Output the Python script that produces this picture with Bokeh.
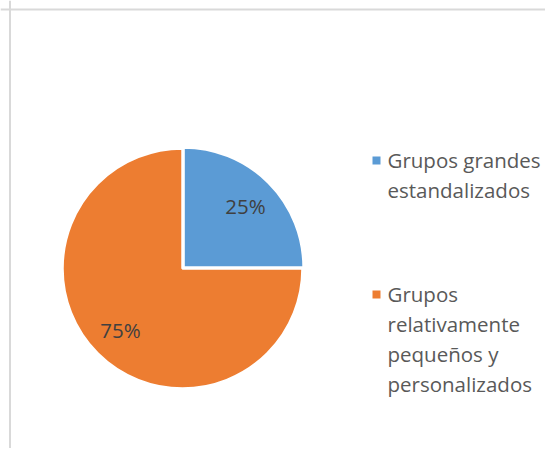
import math
from bokeh.plotting import figure
from bokeh.models import ColumnDataSource, Span
from bokeh.core.properties import value
from bokeh.embed import file_html
from bokeh.resources import INLINE

# ---- data ----
categories = ["Grupos grandes\nestandalizados",
              "Grupos\nrelativamente\npequeños y\npersonalizados"]
shares = [25, 75]
pct_labels = ["25%", "75%"]
colors = ["#5B9BD5", "#ED7D31"]

W, H = 545, 448
FONT = "Open Sans"

p = figure(width=W, height=H, x_range=(0, W), y_range=(0, H),
           output_backend="svg", toolbar_location=None,
           min_border=0, min_border_left=0, min_border_right=0,
           min_border_top=0, min_border_bottom=0)
p.axis.visible = False
p.grid.visible = False
p.outline_line_color = None
p.background_fill_color = "white"
p.border_fill_color = "white"

# chart-area border (left & top visible in reference)
p.add_layout(Span(location=9.5, dimension="height", line_color="#d9d9d9", line_width=2))
p.add_layout(Span(location=H - 9, dimension="width", line_color="#d9d9d9", line_width=2))

# ---- pie ----
cx, cy, r = 182, 180, 120
explode = [1.5, 0]
total = sum(shares)
xs, ys, starts, ends, lx, ly = [], [], [], [], [], []
cum = 0
for v, e in zip(shares, explode):
    a0 = math.pi / 2 - cum / total * 2 * math.pi
    cum += v
    a1 = math.pi / 2 - cum / total * 2 * math.pi
    starts.append(a0)
    ends.append(a1)
    mid = (a0 + a1) / 2
    ox, oy = cx + e * math.cos(mid), cy + e * math.sin(mid)
    xs.append(ox)
    ys.append(oy)
    lx.append(ox + 0.73 * r * math.cos(mid))
    ly.append(oy + 0.72 * r * math.sin(mid))

src = ColumnDataSource(dict(x=xs, y=ys, start=starts, end=ends, color=colors,
                            lx=lx, ly=ly, lab=pct_labels))
p.wedge(x="x", y="y", radius=r, start_angle="start", end_angle="end",
        direction="clock", fill_color="color", line_color="white",
        line_width=2.5, source=src)
p.text(x="lx", y="ly", text="lab", source=src, text_align="center",
       text_baseline="middle", text_color="#404040",
       text_font=value(FONT), text_font_size="20.5px")

# ---- legend ----
leg_x, text_x = 376, 387
first_baselines = [289, 155]
line_gap = 30
tx, ty, tt = [], [], []
sx, sy = [], []
for cat, b in zip(categories, first_baselines):
    sx.append(leg_x)
    sy.append(b - 1)
    for i, line in enumerate(cat.split("\n")):
        tx.append(text_x)
        ty.append(b - i * line_gap)
        tt.append(line)
p.scatter(x=sx, y=sy, marker="square", size=8, fill_color=colors,
          line_color=None)
p.text(x=tx, y=ty, text=tt, text_align="left", text_baseline="alphabetic",
       text_color="#595959", text_font=value(FONT), text_font_size="20.5px")

open("out.html", "w").write(file_html(p, INLINE))
